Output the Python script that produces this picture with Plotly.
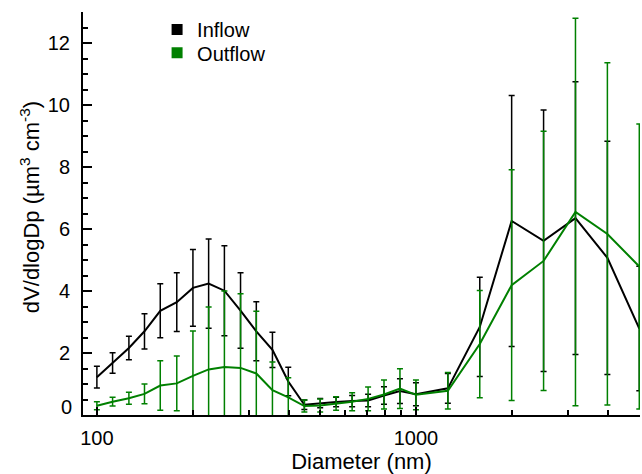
import plotly.graph_objects as go

# Particle diameter bins (nm)
diameter_nm = [100, 112, 126, 141, 158, 178, 200, 224, 251, 282, 316, 355, 398,
               447, 501, 562, 631, 708, 794, 891, 1000,
               1259, 1585, 1995, 2512, 3162, 3981, 5012]

# Volume size distribution dV/dlogDp (um^3 cm^-3) and its error (+/-)
inflow = [1.22, 1.68, 2.16, 2.70, 3.36, 3.64, 4.10, 4.24, 4.01, 3.37, 2.70, 2.10, 1.08,
          0.33, 0.38, 0.42, 0.45, 0.47, 0.63, 0.77, 0.67,
          0.86, 2.84, 6.26, 5.62, 6.35, 5.07, 2.79]
inflow_err = [0.35, 0.33, 0.38, 0.57, 0.87, 0.95, 1.24, 1.44, 1.45, 1.22, 0.95, 0.57, 0.46,
              0.15, 0.15, 0.15, 0.18, 0.20, 0.28, 0.40, 0.37,
              0.48, 1.60, 4.05, 4.22, 4.40, 3.76, 2.01]

outflow = [0.30, 0.43, 0.54, 0.68, 0.95, 1.02, 1.26, 1.47, 1.55, 1.52, 1.34, 0.80, 0.57,
           0.29, 0.31, 0.37, 0.43, 0.52, 0.66, 0.85, 0.65,
           0.78, 2.29, 4.19, 4.97, 6.55, 5.84, 4.79]
outflow_err = [0.13, 0.14, 0.19, 0.32, 0.80, 0.88, 1.45, 2.01, 2.45, 2.39, 2.01, 0.91, 0.63,
               0.19, 0.21, 0.22, 0.29, 0.38, 0.47, 0.64, 0.48,
               0.59, 1.73, 3.72, 4.18, 6.25, 5.52, 4.60]

series_names = ["Inflow", "Outflow"]
series_colors = ["#000000", "#008000"]
legend_ids = ["legend", "legend2"]

y_tick_vals = [0, 2, 4, 6, 8, 10, 12]
x_tick_vals = [100, 1000]
x_minor_vals = [200, 300, 400, 500, 600, 700, 800, 900, 2000, 3000, 4000]

FONT = "Liberation Sans, Arial, sans-serif"

fig = go.Figure()

for name, vals, errs, color in zip(series_names, [inflow, outflow],
                                   [inflow_err, outflow_err], series_colors):
    fig.add_trace(go.Scatter(
        x=diameter_nm, y=vals, mode="lines", name=name, showlegend=False,
        line=dict(color=color, width=2),
        error_y=dict(type="data", array=errs, visible=True,
                     color=color, thickness=1.5, width=3),
    ))

# Square legend swatches, one legend box per series for tight spacing
for name, color, lg in zip(series_names, series_colors, legend_ids):
    fig.add_trace(go.Scatter(
        x=[None], y=[None], mode="markers", name=name, legend=lg,
        marker=dict(symbol="square", size=11, color=color),
    ))

legend_style = dict(xanchor="left", yanchor="top", bgcolor="rgba(0,0,0,0)",
                    borderwidth=0, font=dict(size=20), itemwidth=30)

fig.update_layout(
    width=642, height=474,
    margin=dict(l=83, r=2, t=12, b=59),
    paper_bgcolor="white", plot_bgcolor="white",
    font=dict(family=FONT, size=20, color="black"),
    showlegend=True,
    legend=dict(x=0.133, y=1.005, **legend_style),
    legend2=dict(x=0.133, y=0.947, **legend_style),
    xaxis=dict(
        type="log", range=[1.9565, 3.7022],
        showgrid=False, zeroline=False,
        showline=True, linecolor="black", linewidth=2,
        ticks="inside", ticklen=8, tickwidth=1.5, tickcolor="black",
        tickvals=x_tick_vals, ticktext=[str(v) for v in x_tick_vals],
        ticklabelstandoff=4,
        minor=dict(tickvals=x_minor_vals, ticks="inside", ticklen=5,
                   tickwidth=1.5, tickcolor="black", showgrid=False),
        title=dict(text="Diameter (nm)", font=dict(size=22), standoff=6),
    ),
    yaxis=dict(
        range=[0, 13],
        showgrid=False, zeroline=False,
        showline=True, linecolor="black", linewidth=2,
        ticks="inside", ticklen=9, tickwidth=1.5, tickcolor="black",
        tickvals=y_tick_vals,
        ticktext=["" if v == 0 else str(v) for v in y_tick_vals],
        ticklabelstandoff=7,
        minor=dict(dtick=0.5, ticks="inside", ticklen=5, tickwidth=1.5,
                   tickcolor="black", showgrid=False),
    ),
    annotations=[
        dict(text="0", xref="paper", yref="y", x=0, y=0,
             xanchor="right", yanchor="middle", xshift=-9, yshift=8,
             showarrow=False, font=dict(size=20)),
        dict(text="dV/dlogDp (µm<sup>3</sup> cm<sup>-3</sup>)",
             xref="paper", yref="paper", x=-0.095, y=0.516,
             xanchor="center", yanchor="middle", textangle=-90,
             showarrow=False, font=dict(size=22)),
    ],
)

fig.write_html("out.html")
